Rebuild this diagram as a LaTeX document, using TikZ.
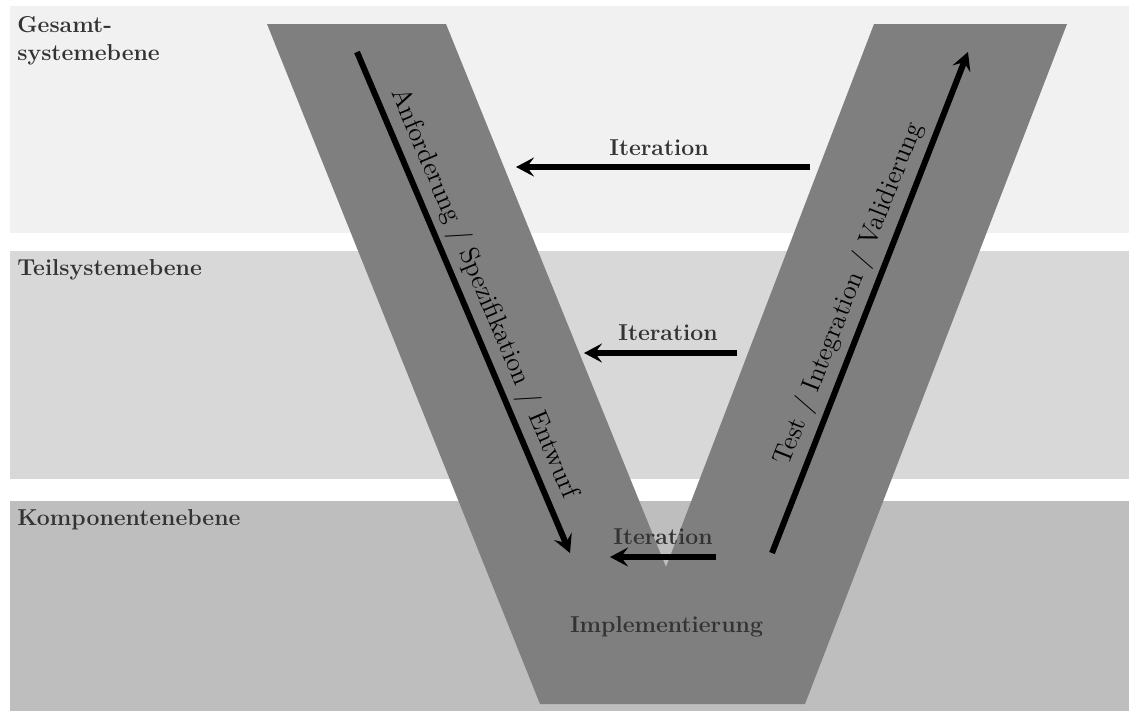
\documentclass[tikz,border=0pt]{standalone}
\usetikzlibrary{arrows.meta}
\definecolor{levelA}{HTML}{F1F1F1}
\definecolor{levelB}{HTML}{D8D8D8}
\definecolor{levelC}{HTML}{BEBEBE}
\definecolor{vshape}{HTML}{7F7F7F}
\definecolor{labeltext}{HTML}{333333}
\begin{document}
\begin{tikzpicture}[x=0.5pt,y=-0.5pt,
  levellabel/.style={inner sep=0pt, text=labeltext, align=left,
    font=\fontsize{11.5}{14}\selectfont\bfseries},
  iterlabel/.style={anchor=base, inner sep=0pt, text=labeltext,
    font=\fontsize{11.5}{14}\selectfont\bfseries},
  flow/.style={line width=3pt, -{Stealth[length=9pt,width=9.5pt,inset=3.5pt]}},
  phase/.style={font=\fontsize{13.3}{16}\selectfont, inner sep=0pt, sloped, above=3pt}
]
\useasboundingbox (0,0) rectangle (1129,713);

% system levels
\fill[levelA] (9.5,6)   rectangle (1129,233);
\fill[levelB] (9.5,251) rectangle (1129,479);
\fill[levelC] (9.5,501) rectangle (1129,711);

% the V
\fill[vshape] (267,24) -- (446,24) -- (666,567) -- (874,24) -- (1067,24)
  -- (805,704) -- (540,704) -- cycle;

% level names
\node[levellabel, anchor=north west] (lvlA) at (17,16) {Gesamt-\\systemebene};
\node[levellabel, anchor=base west] (lvlB) at (17,275) {Teilsystemebene};
\node[levellabel, anchor=base west] (lvlC) at (17,525) {Komponentenebene};

% left and right branch
\coordinate (downS) at (357,52);
\coordinate (downE) at (570,553);
\coordinate (upS) at (772,553);
\coordinate (upE) at (968,52);
\draw[flow] (downS) -- node[phase] (down) {Anforderung / Spezifikation / Entwurf} (downE);
\draw[flow] (upS) -- node[phase] (up) {Test / Integration / Validierung} (upE);

% iterations
\coordinate (itAS) at (810,167);
\coordinate (itAE) at (516,167);
\coordinate (itBS) at (737,353);
\coordinate (itBE) at (584,353);
\coordinate (itCS) at (716,557);
\coordinate (itCE) at (610,557);
\draw[flow] (itAS) -- (itAE);
\draw[flow] (itBS) -- (itBE);
\draw[flow] (itCS) -- (itCE);
\node[iterlabel] (itA) at (659,155) {Iteration};
\node[iterlabel] (itB) at (668,340) {Iteration};
\node[iterlabel] (itC) at (663,544) {Iteration};

\node[iterlabel] (impl) at (666.5,632) {Implementierung};
\end{tikzpicture}
\end{document}
